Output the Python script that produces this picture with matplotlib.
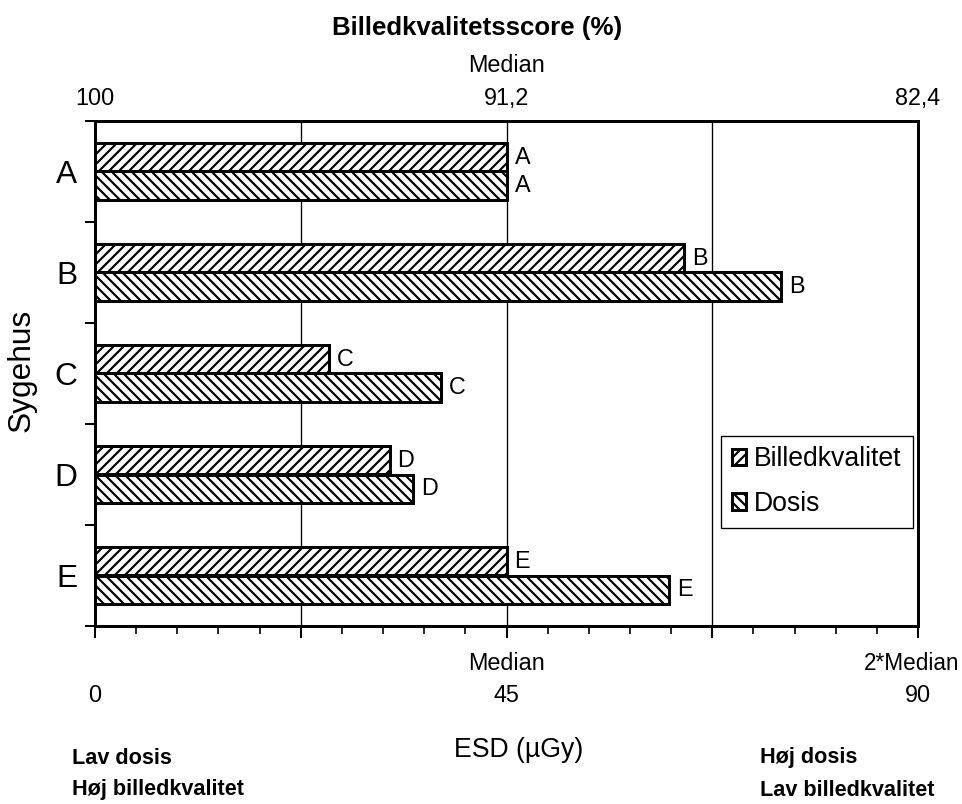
import matplotlib
matplotlib.use("Agg")
import matplotlib.pyplot as plt
from matplotlib.ticker import FixedLocator, NullFormatter
import matplotlib.transforms as mtransforms

# --- data -------------------------------------------------------------
hospitals = ["A", "B", "C", "D", "E"]
quality_score = [91.2, 87.4, 95.0, 93.7, 91.2]   # Billedkvalitetsscore (%)
dose_esd = [45.0, 75.0, 37.8, 34.8, 62.8]         # ESD (µGy)

esd_median = 45.0
quality_median = 91.2
quality_best = 100.0

esd_ticks = [0, 45, 90]
esd_tick_labels = ["0", "45", "90"]
esd_tick_notes = ["", "Median", "2*Median"]
quality_ticks = [100, 91.2, 82.4]
quality_tick_labels = ["100", "91,2", "82,4"]
quality_tick_notes = ["", "Median", ""]

series_names = ["Billedkvalitet", "Dosis"]

# --- helpers: quality score <-> ESD scale ------------------------------
def quality_to_esd(q):
    return (quality_best - q) * esd_median / (quality_best - quality_median)

plt.rcParams["font.family"] = ["Liberation Sans", "DejaVu Sans"]
plt.rcParams["hatch.linewidth"] = 1.3

W, H, DPI = 962, 804, 120
fig = plt.figure(figsize=(W / DPI, H / DPI), dpi=DPI)
left, right, top, bottom = 95, 918, 121, 626
ax = fig.add_axes([left / W, 1 - bottom / H, (right - left) / W, (bottom - top) / H])

ypos = list(range(len(hospitals)))
bh = 0.283
q_len = [quality_to_esd(q) for q in quality_score]

ax.barh([y - bh / 2 for y in ypos], q_len, height=bh, color="white",
        edgecolor="black", linewidth=1.8, hatch="////", label=series_names[0],
        zorder=3)
ax.barh([y + bh / 2 for y in ypos], dose_esd, height=bh, color="white",
        edgecolor="black", linewidth=1.8, hatch="\\\\\\\\", label=series_names[1],
        zorder=3)

# letters at the end of each bar
for y, v, name in zip(ypos, q_len, hospitals):
    ax.annotate(name, (v, y - bh / 2), xytext=(8, 0), textcoords="offset pixels",
                ha="left", va="center", fontsize=14)
for y, v, name in zip(ypos, dose_esd, hospitals):
    ax.annotate(name, (v, y + bh / 2), xytext=(8, 0), textcoords="offset pixels",
                ha="left", va="center", fontsize=14)

ax.set_xlim(0, 2 * esd_median)
ax.set_ylim(len(hospitals) - 0.5, -0.5)

# vertical grid
for gx in [esd_median / 2, esd_median, 1.5 * esd_median]:
    ax.axvline(gx, color="black", linewidth=0.8, zorder=1)

for s in ax.spines.values():
    s.set_linewidth(1.8)

# y axis: ticks between groups, category names at centres
ax.yaxis.set_major_locator(FixedLocator([y - 0.5 for y in range(len(hospitals) + 1)]))
ax.yaxis.set_major_formatter(NullFormatter())
ax.set_yticks(ypos, hospitals, minor=True)
ax.tick_params(axis="y", which="major", direction="out", length=6, width=1.2)
ax.tick_params(axis="y", which="minor", length=0, pad=10.5, labelsize=19)

# x axis: major and minor ticks, labels drawn as text
ax.xaxis.set_major_locator(FixedLocator([0, 22.5, 45, 67.5, 90]))
ax.xaxis.set_minor_locator(FixedLocator([i * 4.5 for i in range(21)]))
ax.xaxis.set_major_formatter(NullFormatter())
ax.tick_params(axis="x", which="major", direction="out", length=7, width=1.2)
ax.tick_params(axis="x", which="minor", direction="out", length=5, width=1.0)

trans_b = mtransforms.blended_transform_factory(ax.transData, ax.transAxes)
ax_h = (bottom - top)
last = len(esd_ticks) - 1
for i, (xv, lab, note) in enumerate(zip(esd_ticks, esd_tick_labels, esd_tick_notes)):
    ax.text(xv, -(696 - bottom) / ax_h, lab, transform=trans_b, ha="center",
            va="center", fontsize=14)
    if note:
        # the rightmost note is kept inside the figure edge
        if i == last:
            ax.annotate(note, (xv, -(663 - bottom) / ax_h), xycoords=trans_b,
                        xytext=(41, 0), textcoords="offset pixels",
                        ha="right", va="center", fontsize=13.5)
        else:
            ax.text(xv, -(663 - bottom) / ax_h, note, transform=trans_b,
                    ha="center", va="center", fontsize=14)

# top axis: image quality score
for qv, lab, note in zip(quality_ticks, quality_tick_labels, quality_tick_notes):
    xv = quality_to_esd(qv)
    ax.text(xv, 1 + (top - 99) / ax_h, lab, transform=trans_b, ha="center",
            va="center", fontsize=14)
    if note:
        ax.text(xv, 1 + (top - 66) / ax_h, note, transform=trans_b, ha="center",
                va="center", fontsize=14)

fig.text(477 / W, 1 - 28 / H, "Billedkvalitetsscore (%)", ha="center", va="center",
         fontsize=15.5, fontweight="bold")
fig.text(519 / W, 1 - 750 / H, "ESD (µGy)", ha="center", va="center", fontsize=16)
fig.text(22 / W, 1 - 370 / H, "Sygehus", ha="center", va="center", fontsize=19,
         rotation=90)

fig.text(72 / W, 1 - 758 / H, "Lav dosis", ha="left", va="center", fontsize=13,
         fontweight="bold")
fig.text(72 / W, 1 - 790 / H, "Høj billedkvalitet", ha="left", va="center",
         fontsize=13, fontweight="bold")
fig.text(760 / W, 1 - 758 / H, "Høj dosis", ha="left", va="center", fontsize=13,
         fontweight="bold")
fig.text(760 / W, 1 - 790 / H, "Lav billedkvalitet", ha="left", va="center",
         fontsize=13, fontweight="bold")

leg = ax.legend(loc="center", bbox_to_anchor=(0.762, 0.194, 0.23, 0.184),
                fontsize=16, frameon=True, fancybox=False, shadow=False,
                handlelength=0.55, handleheight=0.55, handletextpad=0.3,
                labelspacing=0.7, borderpad=0.4, borderaxespad=0)
leg.get_frame().set_edgecolor("black")
leg.get_frame().set_linewidth(0.8)
leg.get_frame().set_alpha(1)

fig.savefig("out.png", dpi=DPI)
